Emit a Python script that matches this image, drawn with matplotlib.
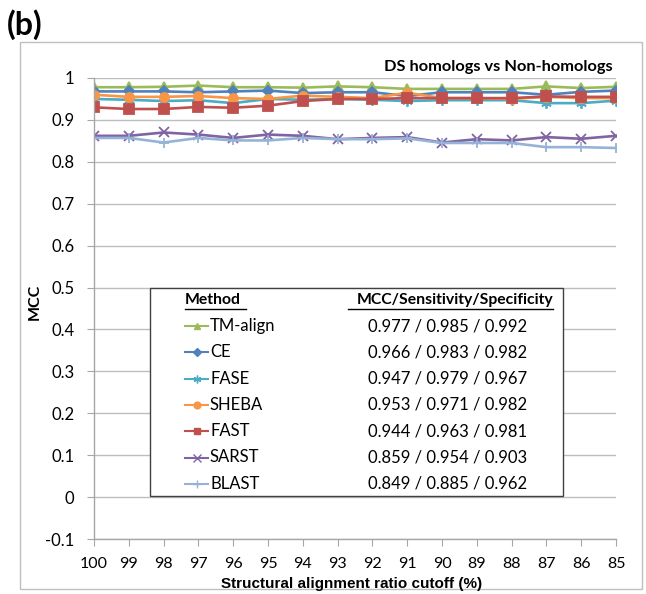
import matplotlib
matplotlib.use("Agg")
import matplotlib.pyplot as plt
from matplotlib.lines import Line2D
from matplotlib.patches import Rectangle

# ---- data ----
cutoffs = [100, 99, 98, 97, 96, 95, 94, 93, 92, 91, 90, 89, 88, 87, 86, 85]
methods = ["TM-align", "CE", "FASE", "SHEBA", "FAST", "SARST", "BLAST"]
tm_align = [0.978, 0.978, 0.979, 0.982, 0.978, 0.978, 0.977, 0.980, 0.978, 0.974, 0.974, 0.974, 0.974, 0.980, 0.976, 0.979]
ce = [0.968, 0.968, 0.968, 0.966, 0.968, 0.970, 0.964, 0.966, 0.966, 0.957, 0.966, 0.966, 0.966, 0.960, 0.967, 0.970]
fase = [0.950, 0.948, 0.945, 0.947, 0.940, 0.950, 0.948, 0.950, 0.948, 0.945, 0.947, 0.947, 0.947, 0.940, 0.940, 0.946]
sheba = [0.960, 0.955, 0.955, 0.957, 0.952, 0.950, 0.958, 0.955, 0.952, 0.965, 0.952, 0.952, 0.950, 0.955, 0.952, 0.952]
fast = [0.930, 0.926, 0.926, 0.931, 0.929, 0.934, 0.945, 0.950, 0.950, 0.952, 0.952, 0.952, 0.952, 0.956, 0.955, 0.955]
sarst = [0.862, 0.862, 0.870, 0.865, 0.857, 0.865, 0.862, 0.854, 0.857, 0.859, 0.846, 0.854, 0.851, 0.859, 0.855, 0.862]
blast = [0.857, 0.857, 0.846, 0.857, 0.851, 0.851, 0.857, 0.854, 0.854, 0.856, 0.845, 0.845, 0.845, 0.835, 0.835, 0.833]
mcc_summary = ["0.977", "0.966", "0.947", "0.953", "0.944", "0.859", "0.849"]
sens_summary = ["0.985", "0.983", "0.979", "0.971", "0.963", "0.954", "0.885"]
spec_summary = ["0.992", "0.982", "0.967", "0.982", "0.981", "0.903", "0.962"]
yticks = [-0.1, 0, 0.1, 0.2, 0.3, 0.4, 0.5, 0.6, 0.7, 0.8, 0.9, 1]
ytick_labels = ["-0.1", "0", "0.1", "0.2", "0.3", "0.4", "0.5", "0.6", "0.7", "0.8", "0.9", "1"]

series = [tm_align, ce, fase, sheba, fast, sarst, blast]
colors = ["#9BBB59", "#4F81BD", "#4BACC6", "#F79646", "#C0504D", "#8064A2", "#95B3D7"]
markers = ["^", "D", (6, 2, 0), "o", "s", "x", "+"]
msizes = [6.5, 5, 7.5, 6.5, 6.5, 7, 7.5]

W, H = 646, 594
fig = plt.figure(figsize=(W / 100, H / 100), dpi=100)
FONT = ["Lato", "DejaVu Sans"]

def fx(px):
    return px / W

def fy(py):
    return 1 - py / H

# outer chart border
fig.patches.append(Rectangle((fx(20), fy(589)), fx(642) - fx(20), fy(42) - fy(589),
                             transform=fig.transFigure, fill=False,
                             edgecolor="#BFBFBF", linewidth=1.0))

ax = fig.add_axes([fx(94), fy(539), fx(616) - fx(94), fy(78) - fy(539)])
x = list(range(len(cutoffs)))
for vals, c, m, ms in zip(series, colors, markers, msizes):
    ax.plot(x, vals, color=c, marker=m, markersize=ms, linewidth=1.9,
            markeredgecolor=c, markerfacecolor=c, markeredgewidth=1.3)

ax.set_xlim(0, len(cutoffs) - 1)
ax.set_ylim(-0.1, 1.0)
ax.set_yticks(yticks)
ax.set_yticklabels(ytick_labels, fontfamily=FONT, fontsize=12)
ax.set_xticks(x)
ax.set_xticklabels([str(c) for c in cutoffs], fontfamily=FONT, fontsize=11.5)
ax.grid(axis="y", color="#BDBDBD", linewidth=1.0)
ax.set_axisbelow(True)
for s in ["top", "right"]:
    ax.spines[s].set_visible(False)
for s in ["left", "bottom"]:
    ax.spines[s].set_color("#A6A6A6")
    ax.spines[s].set_linewidth(1.0)
ax.tick_params(axis="x", length=5, color="#A6A6A6", pad=8)
ax.tick_params(axis="y", length=5, color="#A6A6A6", pad=9)

# labels
fig.text(fx(352), fy(584), "Structural alignment ratio cutoff (%)", ha="center", va="center",
         fontsize=11, fontweight="bold", family=["Liberation Sans Narrow", "Liberation Sans"])
fig.text(fx(35), fy(302), "MCC", rotation=90, ha="center", va="center",
         fontsize=11.5, fontweight="bold", family=FONT)
fig.text(fx(613), fy(67), "DS homologs vs Non-homologs", ha="right", va="center",
         fontsize=11.8, fontweight="bold", family=FONT)
fig.text(fx(7), fy(25), "(b)", ha="left", va="center",
         fontsize=23, fontweight="bold", family=FONT)

# legend box (table)
fig.patches.append(Rectangle((fx(150), fy(496)), fx(563) - fx(150), fy(288) - fy(496),
                             transform=fig.transFigure, facecolor="white",
                             edgecolor="#404040", linewidth=1.0, zorder=5))
fig.text(fx(185), fy(300), "Method", ha="left", va="center", fontsize=11.3,
         fontweight="bold", family=FONT, zorder=6)
fig.text(fx(553), fy(300), "MCC/Sensitivity/Specificity", ha="right", va="center",
         fontsize=11.3, fontweight="bold", family=FONT, zorder=6)
fig.add_artist(Line2D([fx(185), fx(246)], [fy(309), fy(309)], transform=fig.transFigure,
                      color="black", linewidth=1.0, zorder=6))
fig.add_artist(Line2D([fx(348), fx(553)], [fy(309), fy(309)], transform=fig.transFigure,
                      color="black", linewidth=1.0, zorder=6))
row_y0, row_dy = 326, 26.3
for i, (name, c, m, ms) in enumerate(zip(methods, colors, markers, msizes)):
    yy = row_y0 + i * row_dy
    fig.add_artist(Line2D([fx(185), fx(208)], [fy(yy), fy(yy)], transform=fig.transFigure,
                          color=c, linewidth=1.5, zorder=6))
    fig.add_artist(Line2D([fx(196.5)], [fy(yy)], transform=fig.transFigure, color=c,
                          marker=m, markersize=ms * 0.75, markerfacecolor=c,
                          markeredgecolor=c, markeredgewidth=1.0, zorder=7))
    fig.text(fx(210), fy(yy), name, ha="left", va="center", fontsize=12,
             family=FONT, zorder=6)
    fig.text(fx(527), fy(yy), f"{mcc_summary[i]} / {sens_summary[i]} / {spec_summary[i]}",
             ha="right", va="center", fontsize=12, family=FONT, zorder=6)

fig.savefig("out.png", dpi=100)
